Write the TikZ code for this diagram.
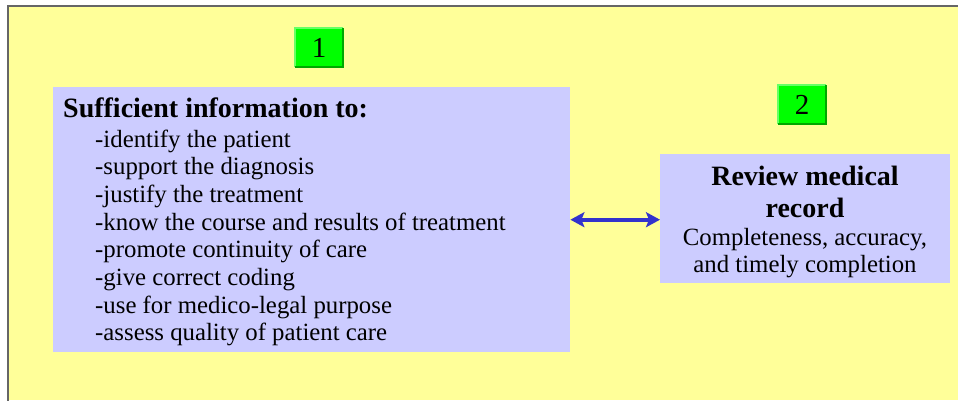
\documentclass[tikz,border=0pt]{standalone}
\usepackage{fontspec}
\setmainfont{Liberation Serif}
\usetikzlibrary{arrows.meta}

\definecolor{slidebg}{HTML}{FFFF99}
\definecolor{framegray}{HTML}{666666}
\definecolor{panelblue}{HTML}{CCCCFF}
\definecolor{tagfill}{HTML}{00FF00}
\definecolor{taglight}{HTML}{66FF66}
\definecolor{tagdark}{HTML}{00A800}
\definecolor{linkblue}{HTML}{3333CC}

\tikzset{
  panel/.style={fill=panelblue, draw=none, inner sep=0pt, anchor=north west},
  tagbox/.style={fill=tagfill, draw=none, inner sep=0pt, minimum width=48pt,
    minimum height=39pt, font=\fontsize{29}{30}\selectfont},
  headtext/.style={inner sep=0pt, font=\bfseries\fontsize{28}{30}\selectfont},
  bodytext/.style={inner sep=0pt, font=\fontsize{24.8}{27}\selectfont},
  link/.style={linkblue, line width=4pt,
    {Stealth[length=14pt,width=15pt,inset=3pt]}-{Stealth[length=14pt,width=15pt,inset=3pt]}}
}

\newcommand{\bevel}[1]{%
  \draw[taglight, line width=1.5pt] (#1.south west) -- (#1.north west) -- (#1.north east);
  \draw[tagdark, line width=1.5pt] (#1.north east) -- (#1.south east) -- (#1.south west);
}

\begin{document}
\begin{tikzpicture}[x=1pt, y=-1pt]
  \useasboundingbox (0,0) rectangle (958,400);

  % slide background and its frame
  \fill[slidebg] (7,5) rectangle (958,400);
  \draw[framegray, line width=2pt] (7.5,410) -- (7.5,5.5) -- (970,5.5);

  % numbered tags
  \node[tagbox] (tag1) at (319,47.5) {1};
  \bevel{tag1}
  \node[tagbox] (tag2) at (802,104.5) {2};
  \bevel{tag2}

  % left panel: purposes of the record
  \node[panel, minimum width=517pt, minimum height=265pt] (info) at (53,87) {};
  \node[headtext, anchor=base west] (infohead) at (63,117) {Sufficient information to:};
  \foreach \txt [count=\i] in {
      -identify the patient,
      -support the diagnosis,
      -justify the treatment,
      -know the course and results of treatment,
      -promote continuity of care,
      -give correct coding,
      -use for medico-legal purpose,
      -assess quality of patient care}
    \node[bodytext, anchor=base west] (item\i) at (95,{147+27.7*(\i-1)}) {\txt};

  % right panel: review
  \node[panel, minimum width=290pt, minimum height=129pt] (review) at (660,154) {};
  \node[headtext, anchor=base] (revhead1) at (805,185) {Review medical};
  \node[headtext, anchor=base] (revhead2) at (805,217) {record};
  \node[bodytext, anchor=base] (revbody1) at (805,245) {Completeness, accuracy,};
  \node[bodytext, anchor=base] (revbody2) at (805,272) {and timely completion};

  % two-way link between the panels
  \draw[link] (info.east) -- (info.east -| review.west);
\end{tikzpicture}
\end{document}
